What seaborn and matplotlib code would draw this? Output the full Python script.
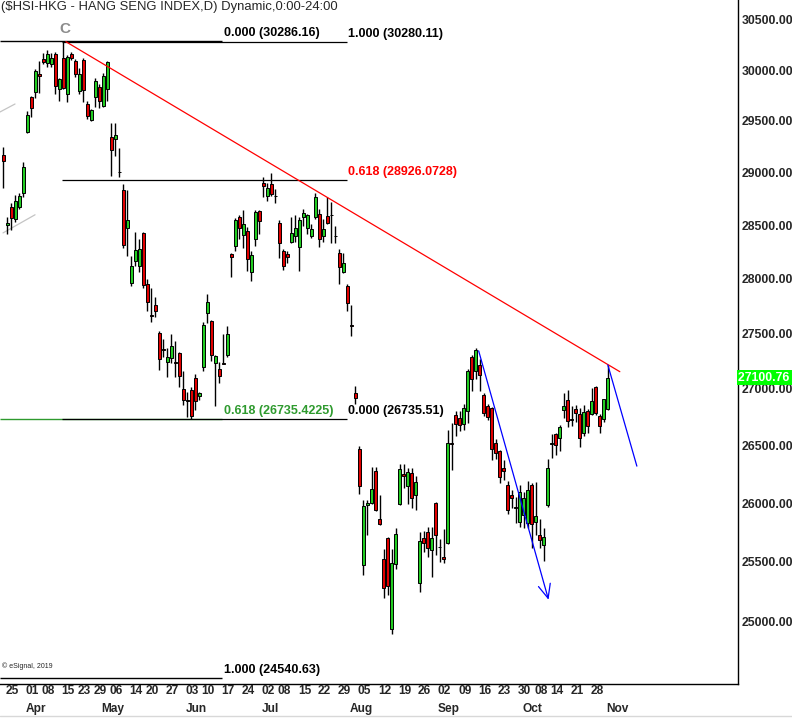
import matplotlib
matplotlib.use("Agg")
import matplotlib.pyplot as plt
from matplotlib.lines import Line2D
from matplotlib.ticker import NullLocator
import pandas as pd
import seaborn as sns

# HK exchange holidays inside the window -> trading-day calendar
HOLIDAYS = ["2019-04-05", "2019-04-19", "2019-04-22", "2019-05-01", "2019-05-13",
            "2019-06-07", "2019-07-01", "2019-10-01", "2019-10-07"]
dates = pd.bdate_range("2019-03-22", "2019-11-01", freq="C", holidays=HOLIDAYS)

opens = [29170, 28502, 28673, 28560, 28673, 28806, 29392, 29733, 29784, 29960,
         30110, 30070, 30060, 30160, 29810, 30120, 29760, 30160, 30090, 29790,
         30100, 29665, 29510, 29733, 29830, 29650, 29810, 29345, 29324, 29010,
         28838, 28470, 27960, 28170, 28120, 28430, 27950, 27670, 27760, 27500,
         27360, 27240, 27280, 27240, 27320, 27000, 26900, 26990, 27100, 26940,
         27200, 27690, 27610, 27230, 27180, 27230, 27300, 28230, 28310, 28580,
         28405, 28450, 28060, 28370, 28630, 28905, 28780, 28890, 28780, 28520,
         28260, 28230, 28340, 28400, 28300, 28580, 28470, 28400, 28580, 28610,
         28400, 28590, 28600, 28400, 28240, 28060, 27930, 27580, 26960, 26470,
         25470, 25980, 26000, 26280, 25860, 25525, 25700, 24940, 25480, 25990,
         26250, 26150, 26260, 26070, 25320, 25700, 25750, 25600, 26000, 25630,
         25540, 25660, 26520, 26770, 26740, 26690, 26800, 27290, 27160, 27210,
         26950, 26850, 26830, 26520, 26450, 26300, 26160, 26070, 25970, 25840,
         25900, 25830, 26160, 25840, 25730, 25640, 25980, 26510, 26600, 26570,
         26810, 26900, 26735, 26820, 26780, 26610, 26800, 26780, 27020, 26760,
         26730, 26820]
highs = [29247, 28580, 28710, 28790, 28806, 29100, 29600, 29740, 30010, 30090,
         30170, 30200, 30170, 30180, 29920, 30280, 30150, 30180, 30110, 30020,
         30120, 29690, 29620, 29920, 29860, 29970, 30090, 29480, 29480, 29240,
         28890, 28838, 28210, 28440, 28370, 28440, 28000, 27915, 27830, 27520,
         27450, 27370, 27490, 27430, 27330, 27160, 26970, 27020, 27130, 26970,
         27600, 27860, 27620, 27300, 27240, 27490, 27570, 28240, 28570, 28600,
         28640, 28480, 28260, 28640, 28640, 28960, 28900, 29000, 28840, 28550,
         28280, 28260, 28580, 28600, 28580, 28650, 28610, 28510, 28810, 28650,
         28555, 28770, 28720, 28490, 28280, 28240, 27950, 27760, 27030, 26495,
         26030, 26030, 26310, 26310, 26070, 25610, 25715, 25610, 25790, 26340,
         26340, 26300, 26300, 26230, 25750, 25760, 25800, 25800, 26010, 25690,
         25780, 26640, 26700, 26800, 26800, 26870, 27180, 27300, 27370, 27270,
         26960, 26870, 26840, 26560, 26460, 26370, 26190, 26110, 26050, 26160,
         26100, 26190, 26170, 26180, 25860, 25790, 26380, 26600, 26610, 26680,
         26960, 26990, 26850, 26860, 26830, 26860, 26820, 27010, 27030, 26780,
         26910, 27210]
lows = [28853, 28420, 28460, 28530, 28650, 28770, 29380, 29540, 29720, 29770,
        30060, 30030, 30030, 29760, 29695, 29810, 29680, 30100, 29930, 29760,
        29685, 29520, 29500, 29635, 29630, 29635, 29690, 28970, 29160, 28960,
        28290, 28210, 27930, 28120, 28060, 27915, 27700, 27600, 27650, 27170,
        27290, 27110, 27230, 27110, 27020, 26860, 26750, 26735, 26810, 26900,
        27160, 27590, 27250, 26850, 27050, 27220, 27290, 28020, 28260, 28370,
        28285, 28070, 27980, 28310, 28420, 28770, 28725, 28780, 28710, 28190,
        28085, 28150, 28330, 28340, 28070, 28490, 28420, 28380, 28560, 28300,
        28340, 28510, 28330, 28330, 27950, 28050, 27700, 27480, 26870, 26080,
        25390, 25730, 25990, 25930, 25810, 25200, 25225, 24899, 25440, 25980,
        26130, 25990, 25960, 25940, 25250, 25580, 25540, 25370, 25560, 25500,
        25490, 25650, 26290, 26580, 26630, 26640, 26700, 26980, 27090, 26980,
        26760, 26720, 26370, 26380, 26170, 26200, 25910, 25960, 25830, 25800,
        25790, 25790, 25620, 25730, 25620, 25510, 25970, 26390, 26420, 26450,
        26740, 26660, 26670, 26710, 26490, 26580, 26610, 26770, 26770, 26610,
        26710, 26810]
closes = [29112, 28524, 28566, 28728, 28775, 29051, 29562, 29624, 29987, 29936,
          30077, 30157, 30119, 29839, 29909, 29820, 30130, 30124, 29963, 29963,
          29805, 29549, 29605, 29893, 29699, 29944, 30081, 29220, 29363, 29003,
          28311, 28550, 28122, 28268, 28275, 27946, 27788, 27657, 27706, 27267,
          27353, 27288, 27390, 27235, 27115, 26901, 26893, 26762, 26895, 26965,
          27578, 27789, 27308, 27294, 27118, 27227, 27498, 28202, 28550, 28473,
          28513, 28185, 28221, 28621, 28542, 28875, 28855, 28795, 28775, 28331,
          28116, 28204, 28431, 28471, 28554, 28619, 28593, 28461, 28765, 28371,
          28466, 28524, 28594, 28397, 28106, 28147, 27778, 27565, 26918, 26151,
          25976, 25997, 26120, 25939, 25825, 25281, 25302, 25495, 25734, 26291,
          26231, 26270, 26048, 26179, 25680, 25664, 25616, 25703, 25725, 25627,
          25527, 26523, 26515, 26691, 26681, 26830, 27159, 27087, 27353, 27124,
          26790, 26754, 26469, 26435, 26222, 26281, 25945, 26041, 25955, 26092,
          26042, 26110, 25821, 25893, 25682, 25707, 26308, 26521, 26503, 26664,
          26848, 26719, 26725, 26786, 26566, 26797, 26667, 26891, 26786, 26667,
          26906, 27100.76]

PRICE_TICKS = [25000, 25500, 26000, 26500, 27000, 27500, 28000, 28500, 29000, 29500, 30000, 30500]
LAST_PRICE = 27100.76

# fibonacci tools: (first anchor price, second anchor price), level ratios, x-span in bars
FIB_A_PRICES = (30286.16, 24540.63)
FIB_A_LEVELS = [0.0, 0.618, 1.0]
FIB_A_COLORS = ["black", "#2e9a2e", "black"]
FIB_A_SPAN = (-0.75, 54.75)
FIB_B_PRICES = (26735.51, 30280.11)
FIB_B_LEVELS = [0.0, 0.618, 1.0]
FIB_B_COLORS = ["black", "#ff0000", "black"]
FIB_B_SPAN = (14.75, 86.0)

# drawn trendlines (bar index, price)
RED_TREND = ([15.7, 154.0], [30282, 27154])
BLUE_ARROW = ([118.75, 136.2], [27342, 25183])
BLUE_LINE = ([151.0, 158.25], [27215, 26320])
GRAY_A = ([-0.75, 3.0], [29587, 29665])
GRAY_B = ([0.0, 8.0], [28428, 28599])

df = pd.DataFrame({"date": dates, "open": opens, "high": highs, "low": lows, "close": closes})
assert len(df) == 152
df["idx"] = range(len(df))
df["up"] = df["close"] >= df["open"]

sns.set_style("white")
plt.rcParams["font.family"] = ["Liberation Sans", "DejaVu Sans"]

fig = plt.figure(figsize=(7.92, 7.18), dpi=100)
ax = fig.add_axes([0, 34 / 718, 738 / 792, 684 / 718])
ax.set_yscale("log")
ax.set_xlim(-0.75, 183.5)
ax.set_ylim(24492, 30702)

# gray channel fragments at the left edge
for xs, ys in (GRAY_A, GRAY_B):
    ax.plot(xs, ys, color="#c4c4c4", lw=0.9)

# fib tool A (0 at top, 1 at bottom)
hi_a, lo_a = FIB_A_PRICES
for r, c in zip(FIB_A_LEVELS, FIB_A_COLORS):
    p = hi_a - r * (hi_a - lo_a)
    ax.hlines(p, *FIB_A_SPAN, color=c, lw=1.0)
    txt = f"{r:.3f} ({p:.4f})" if 0 < r < 1 else f"{r:.3f} ({p:.2f})"
    ax.annotate(txt, (FIB_A_SPAN[1] + 0.5, p), xytext=(0, 2), textcoords="offset pixels",
                ha="left", va="bottom", fontsize=9, fontweight="bold", color=c)

# fib tool B (0 at bottom, 1 at top)
lo_b, hi_b = FIB_B_PRICES
for r, c in zip(FIB_B_LEVELS, FIB_B_COLORS):
    p = lo_b + r * (hi_b - lo_b)
    ax.hlines(p, *FIB_B_SPAN, color="black", lw=0.9)
    txt = f"{r:.3f} ({p:.4f})" if 0 < r < 1 else f"{r:.3f} ({p:.2f})"
    ax.annotate(txt, (FIB_B_SPAN[1] + 0.25, p), xytext=(0, 2), textcoords="offset pixels",
                ha="left", va="bottom", fontsize=9, fontweight="bold", color=c)

# candles
ax.vlines(df["idx"], df["low"], df["high"], color="black", lw=1.0, zorder=3)
for up, color in ((True, "#22cc22"), (False, "#e00000")):
    d = df[df["up"] == up]
    ax.bar(d["idx"], d["close"] - d["open"], bottom=d["open"], width=0.75,
           color=color, edgecolor="black", linewidth=0.7, zorder=4)

# trendlines
ax.plot(*RED_TREND, color="#ff0000", lw=0.9, zorder=5)
ax.plot(*BLUE_LINE, color="#0000ff", lw=0.9, zorder=5)
ax.annotate("", xy=(BLUE_ARROW[0][1], BLUE_ARROW[1][1]),
            xytext=(BLUE_ARROW[0][0], BLUE_ARROW[1][0]),
            arrowprops=dict(arrowstyle="->,head_length=0.5,head_width=0.22",
                            mutation_scale=20, color="#0000ff", lw=0.9,
                            shrinkA=0, shrinkB=0), zorder=5)

# wave label over the April high
ax.text(15.5, 30409, "C", color="#8c8c8c", fontsize=11, fontweight="heavy",
        ha="center", va="center")

# right price axis
ax.yaxis.tick_right()
ax.yaxis.set_minor_locator(NullLocator())
ax.set_yticks(PRICE_TICKS)
ax.set_yticklabels([f"{t:.2f}" for t in PRICE_TICKS])
ax.tick_params(axis="y", length=0, pad=2.5, labelsize=8.8)
for lbl in ax.get_yticklabels():
    lbl.set_fontweight("bold")
ax.set_xticks([])

ax.text(1.0, LAST_PRICE, f"{LAST_PRICE:.2f} ", transform=ax.get_yaxis_transform(),
        ha="left", va="center", color="white", fontsize=8.8, fontweight="bold",
        bbox=dict(boxstyle="square,pad=0.12", fc="#00ff00", ec="none"), clip_on=False, zorder=6)

# date labels: first trading day of each week, month name at first trading day of month
week_first = df.groupby(df["date"].dt.isocalendar().week.values)["idx"].min()
for i in week_first[week_first >= 1]:
    ax.text(i - 0.4, -7 / 684, df["date"][i].strftime("%d"), transform=ax.get_xaxis_transform(),
            ha="left", va="center", fontsize=8.6, fontweight="bold", clip_on=False)
month_first = df.groupby(df["date"].dt.month)["idx"].min()
for i in month_first[month_first >= 1]:
    ax.text(i - 0.4, -25 / 684, df["date"][i].strftime("%b"), transform=ax.get_xaxis_transform(),
            ha="left", va="center", fontsize=8.6, fontweight="bold", clip_on=False)

for side in ("top", "left"):
    ax.spines[side].set_visible(False)
for side in ("right", "bottom"):
    ax.spines[side].set_color("black")
    ax.spines[side].set_linewidth(1.0)

ax.text(2 / 738, 14 / 684, "\u00a9 eSignal, 2019", transform=ax.transAxes, fontsize=5,
        ha="left", va="bottom")
fig.text(0.001, 1 - 7 / 718, "($HSI-HKG - HANG SENG INDEX,D) Dynamic,0:00-24:00",
         ha="left", va="center", fontsize=9.4)
fig.add_artist(Line2D([0, 1], [2 / 718, 2 / 718], color="#d8d8d8", lw=1, transform=fig.transFigure))

fig.savefig("out.png", dpi=100)
plt.close(fig)
